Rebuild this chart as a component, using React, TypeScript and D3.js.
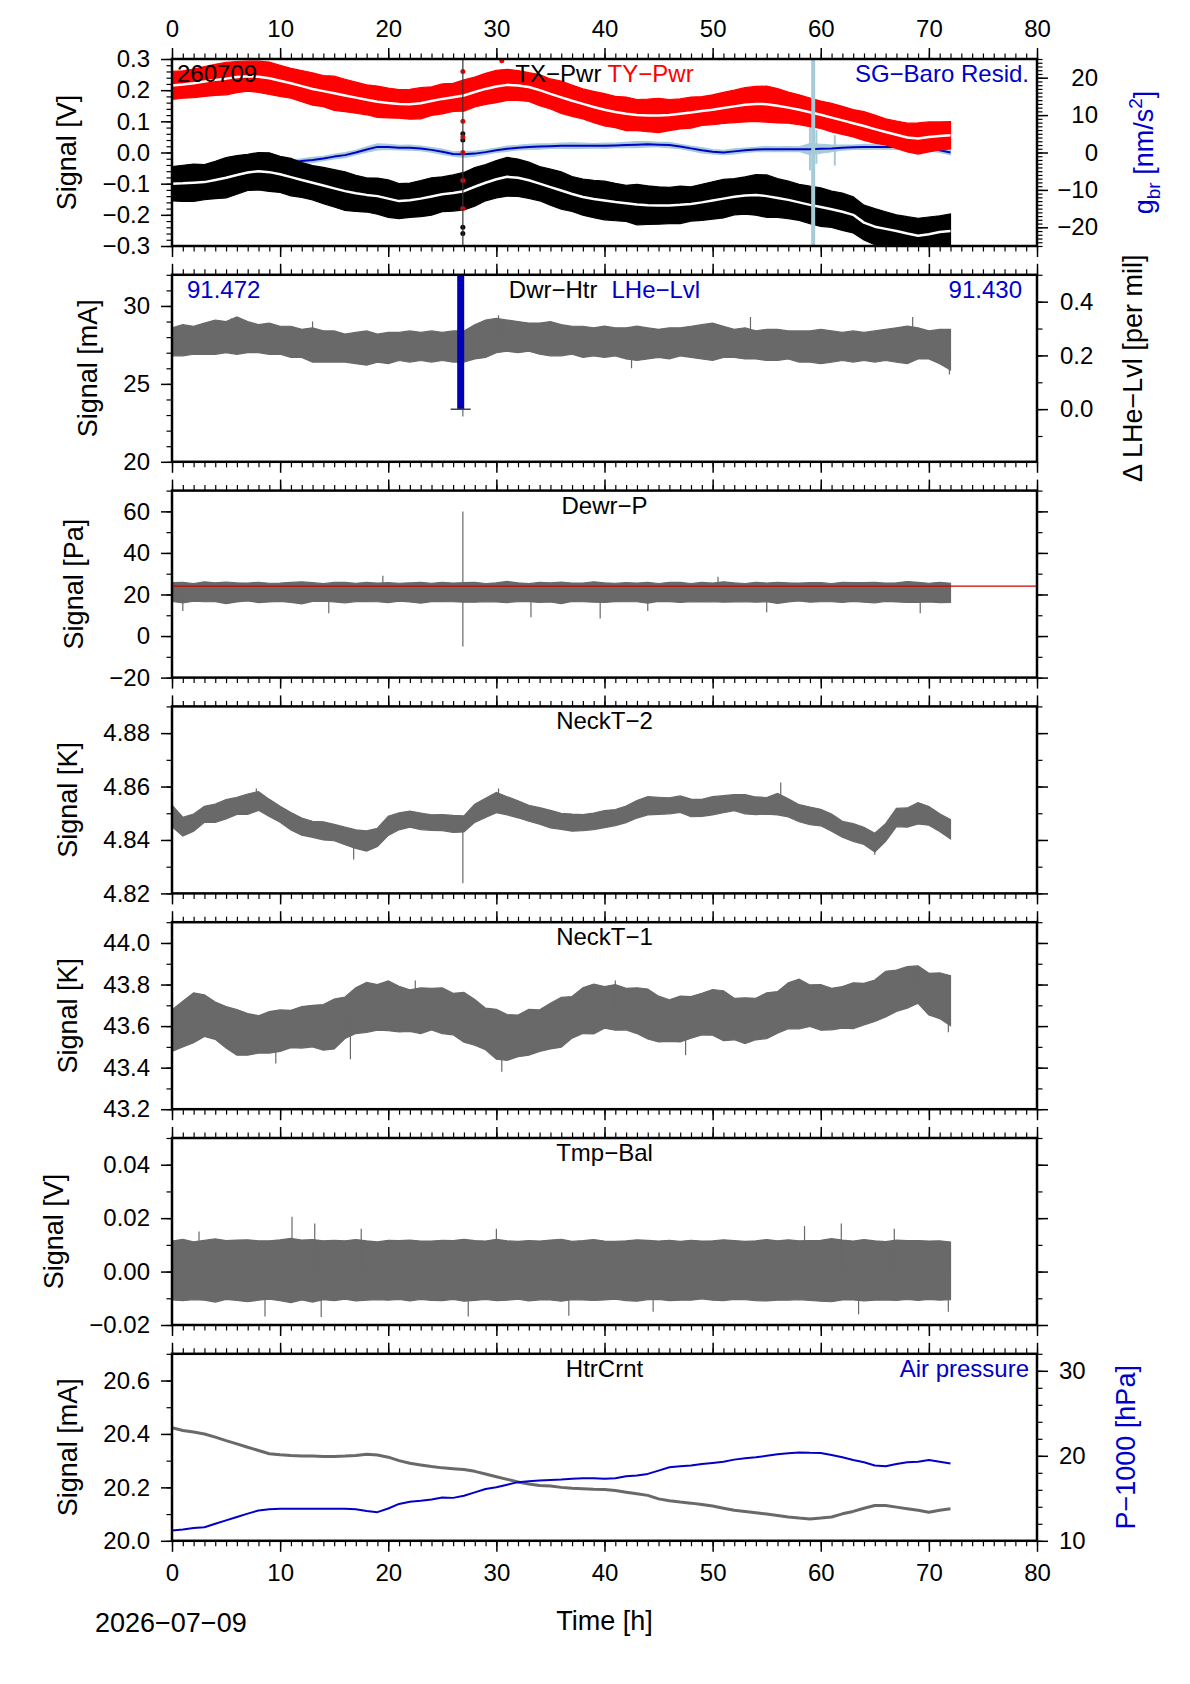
import * as d3 from 'd3';
import React, { useEffect, useRef } from 'react';

// hourly sample grid (h since 2026-07-09 00:00)
const hours = d3.range(0, 73);

// ---- panel 1: tilt power (V) and SG-Baro residual (nm/s^2)
const tyMid = [
  0.215, 0.218, 0.222, 0.228, 0.233, 0.237, 0.242, 0.245, 0.243, 0.238,
  0.230, 0.222, 0.213, 0.204, 0.197, 0.190, 0.183, 0.176, 0.169, 0.163,
  0.159, 0.156, 0.155, 0.158, 0.165, 0.172, 0.177, 0.183, 0.194, 0.204,
  0.212, 0.217, 0.215, 0.210, 0.200, 0.188, 0.177, 0.166, 0.156, 0.146,
  0.137, 0.130, 0.124, 0.120, 0.119, 0.119, 0.120, 0.124, 0.128, 0.133,
  0.137, 0.143, 0.148, 0.153, 0.156, 0.155, 0.150, 0.144, 0.137, 0.129,
  0.121, 0.112, 0.103, 0.094, 0.085, 0.075, 0.066, 0.057, 0.048, 0.045,
  0.050, 0.053, 0.055,
];
const tyAmp = [
  0.045, 0.044, 0.046, 0.048, 0.050, 0.052, 0.050, 0.048, 0.050, 0.052,
  0.050, 0.048, 0.050, 0.052, 0.050, 0.055, 0.052, 0.050, 0.048, 0.050,
  0.048, 0.046, 0.048, 0.050, 0.046, 0.048, 0.045, 0.050, 0.048, 0.050,
  0.052, 0.050, 0.048, 0.046, 0.050, 0.048, 0.052, 0.050, 0.048, 0.050,
  0.052, 0.050, 0.054, 0.050, 0.052, 0.055, 0.050, 0.048, 0.050, 0.046,
  0.048, 0.050, 0.052, 0.055, 0.056, 0.058, 0.055, 0.050, 0.048, 0.046,
  0.044, 0.046, 0.045, 0.044, 0.046, 0.045, 0.042, 0.044, 0.046, 0.050,
  0.048, 0.045, 0.044,
];
const txMid = [
  -0.100, -0.099, -0.097, -0.095, -0.088, -0.081, -0.072, -0.064, -0.060, -0.063,
  -0.070, -0.079, -0.088, -0.097, -0.106, -0.115, -0.124, -0.131, -0.136, -0.140,
  -0.148, -0.156, -0.153, -0.148, -0.141, -0.134, -0.130, -0.124, -0.110, -0.097,
  -0.086, -0.078, -0.081, -0.089, -0.100, -0.111, -0.122, -0.133, -0.143, -0.149,
  -0.154, -0.159, -0.163, -0.167, -0.169, -0.170, -0.170, -0.168, -0.165, -0.160,
  -0.154, -0.148, -0.142, -0.138, -0.136, -0.140, -0.146, -0.152, -0.160, -0.168,
  -0.175, -0.182, -0.190, -0.200, -0.225, -0.238, -0.245, -0.252, -0.260, -0.267,
  -0.262, -0.255, -0.252,
];
const txAmp = [
  0.055, 0.058, 0.060, 0.056, 0.060, 0.065, 0.062, 0.058, 0.060, 0.062,
  0.058, 0.060, 0.056, 0.055, 0.058, 0.060, 0.062, 0.058, 0.055, 0.058,
  0.060, 0.056, 0.055, 0.058, 0.060, 0.056, 0.058, 0.060, 0.062, 0.058,
  0.060, 0.062, 0.060, 0.058, 0.055, 0.058, 0.060, 0.056, 0.058, 0.060,
  0.062, 0.060, 0.058, 0.065, 0.062, 0.060, 0.058, 0.060, 0.055, 0.058,
  0.060, 0.062, 0.058, 0.060, 0.065, 0.068, 0.062, 0.060, 0.058, 0.060,
  0.062, 0.058, 0.060, 0.058, 0.056, 0.058, 0.055, 0.052, 0.054, 0.056,
  0.055, 0.052, 0.055,
];
const tyOutliers: [number, number][] = [
  [26.9, 0.26], [26.9, 0.22], [26.9, 0.18], [26.9, 0.14], [26.9, 0.1],
  [26.9, 0.05], [26.9, 0.0], [26.9, -0.09], [26.9, -0.18], [30.5, 0.294],
];
const txOutliers: [number, number][] = [
  [26.9, 0.06], [26.9, 0.04], [26.9, -0.08], [26.9, -0.24], [26.9, -0.26],
];
const sgMid = [
  -5.6, -5.8, -6.0, -6.0, -5.8, -5.5, -5.0, -4.5, -4.0, -3.5,
  -3.0, -2.6, -2.3, -2.0, -1.6, -1.1, -0.7, 0.0, 0.8, 1.5,
  1.5, 1.3, 1.3, 1.1, 0.7, 0.2, -0.4, -0.5, -0.3, 0.1,
  0.6, 1.0, 1.3, 1.5, 1.6, 1.7, 1.8, 1.8, 1.8, 1.8,
  1.8, 1.9, 2.0, 2.1, 2.2, 2.1, 2.0, 1.6, 1.1, 0.6,
  0.2, 0.0, 0.3, 0.6, 0.8, 0.9, 0.9, 0.9, 0.9, 0.9,
  1.0, 1.1, 1.3, 1.4, 1.5, 1.5, 1.5, 1.5, 1.5, 1.4,
  1.1, 0.6, 0.0,
];
const sgAmp = [
  0.6, 0.7, 0.6, 0.6, 0.7, 0.6, 0.6, 0.7, 0.6, 0.6,
  0.7, 0.6, 0.6, 0.7, 0.6, 0.6, 0.7, 0.6, 0.7, 0.8,
  0.7, 0.6, 0.7, 0.6, 0.6, 0.7, 0.6, 0.8, 0.7, 0.6,
  0.6, 0.7, 0.6, 0.7, 0.7, 0.6, 0.7, 0.8, 0.7, 0.6,
  0.7, 0.6, 0.7, 0.8, 0.7, 0.6, 0.7, 0.6, 0.6, 0.7,
  0.6, 0.6, 0.7, 0.6, 0.6, 0.7, 0.6, 0.7, 0.6, 1.5,
  1.2, 0.9, 0.7, 0.6, 0.7, 0.6, 0.6, 0.7, 0.6, 0.6,
  0.7, 0.6, 0.6,
];
// [t, from, to] raw residual bursts
const sgSpikes: [number, number, number][] = [
  [59.0, -4.8, 9.0], [59.6, -3.0, 6.0], [61.3, -3.5, 4.6],
];
const sgGapT = 59.3;
const stepT = 26.9;

// ---- panel 2: dewar heater current (mA) and LHe level step (per mil)
const dwrMid = [
  27.7, 27.8, 27.8, 27.9, 28.0, 28.0, 28.1, 28.0, 27.9, 27.9,
  27.8, 27.7, 27.6, 27.5, 27.4, 27.4, 27.3, 27.3, 27.3, 27.3,
  27.3, 27.4, 27.4, 27.4, 27.4, 27.4, 27.4, 27.4, 27.7, 27.9,
  28.1, 28.1, 28.0, 28.0, 27.9, 27.9, 27.8, 27.8, 27.7, 27.7,
  27.7, 27.7, 27.6, 27.6, 27.6, 27.6, 27.6, 27.7, 27.7, 27.7,
  27.7, 27.7, 27.6, 27.6, 27.5, 27.5, 27.5, 27.5, 27.4, 27.4,
  27.4, 27.4, 27.4, 27.4, 27.4, 27.4, 27.5, 27.5, 27.5, 27.6,
  27.5, 27.4, 27.2,
];
const dwrAmp = [
  0.9, 1.0, 0.9, 1.0, 1.1, 1.0, 1.2, 1.0, 0.9, 1.0,
  0.9, 1.0, 0.9, 1.1, 1.0, 1.0, 0.9, 1.0, 1.1, 0.9,
  1.0, 0.9, 1.0, 0.9, 1.0, 0.9, 1.0, 1.0, 1.1, 1.2,
  1.1, 1.0, 1.0, 0.9, 1.0, 1.1, 1.0, 0.9, 1.0, 0.9,
  1.0, 0.9, 1.0, 1.1, 1.0, 0.9, 1.0, 0.9, 1.0, 1.1,
  1.2, 1.0, 0.9, 1.0, 0.9, 1.0, 1.0, 0.9, 1.0, 1.0,
  1.1, 1.0, 0.9, 1.0, 0.9, 1.0, 1.0, 1.1, 1.2, 1.0,
  0.9, 1.1, 1.3,
];
const dwrSpikes: [number, number, number][] = [
  [26.9, 27.4, 22.9], [71.9, 27.2, 25.6], [5.5, 28.0, 29.2], [13.0, 27.5, 29.0],
  [30.2, 28.1, 29.4], [42.5, 27.6, 26.0], [53.5, 27.6, 29.3], [68.5, 27.5, 29.3],
];
const lheStep = { t: 26.7, from: 0.0, to: 0.5 };
const lheStart = '91.472';
const lheEnd = '91.430';

// ---- panel 3: dewar pressure (Pa)
const dewrMid = [
  21.2, 20.9, 21.0, 21.3, 21.1, 20.8, 21.0, 21.2, 21.0, 20.9,
  21.1, 21.0, 20.8, 21.2, 21.0, 21.1, 20.9, 21.0, 21.2, 21.0,
  20.9, 21.1, 21.0, 20.8, 21.0, 21.2, 21.0, 21.0, 21.1, 20.9,
  21.0, 21.2, 21.1, 20.9, 21.0, 21.0, 20.8, 21.1, 21.0, 21.2,
  20.9, 21.0, 21.1, 21.0, 20.8, 21.0, 21.2, 21.0, 20.9, 21.1,
  21.0, 21.2, 21.0, 20.9, 21.1, 21.0, 20.8, 21.0, 21.2, 21.0,
  21.1, 20.9, 21.0, 21.2, 21.0, 20.9, 21.1, 21.0, 21.2, 21.0,
  20.9, 21.0, 20.8,
];
const dewrAmp = [
  4.5, 5.0, 4.2, 4.8, 4.5, 5.2, 4.6, 4.3, 4.9, 4.5,
  4.4, 4.8, 5.3, 4.5, 4.2, 4.7, 4.9, 4.4, 4.6, 4.5,
  4.8, 4.3, 4.6, 5.0, 4.4, 4.6, 4.5, 4.7, 4.8, 4.4,
  4.6, 5.1, 4.5, 4.3, 4.8, 4.6, 5.2, 4.4, 4.5, 4.9,
  4.7, 4.4, 4.6, 4.5, 5.0, 4.3, 4.6, 4.8, 4.4, 4.7,
  4.5, 4.9, 4.6, 4.4, 4.8, 4.5, 5.1, 4.6, 4.3, 4.7,
  4.6, 4.4, 4.8, 4.5, 4.7, 4.9, 4.4, 4.6, 5.0, 4.8,
  4.5, 4.9, 4.6,
];
const dewrSpikes: [number, number, number][] = [
  [26.9, -5, 60], [1.0, 21, 12], [14.5, 21, 11], [33.2, 21, 9], [39.6, 21, 8.5],
  [44.0, 21, 12], [55.0, 21, 11.5], [69.2, 21, 11], [19.5, 21, 29], [50.5, 21, 28.5],
];
const dewrRef = 24;

// ---- panel 4: neck temperature 2 (K)
const neckT2Mid = [
  4.8490, 4.8450, 4.8465, 4.8496, 4.8500, 4.8515, 4.8528, 4.8534, 4.8546, 4.8520,
  4.8496, 4.8470, 4.8450, 4.8440, 4.8434, 4.8428, 4.8415, 4.8403, 4.8396, 4.8410,
  4.8453, 4.8470, 4.8478, 4.8470, 4.8465, 4.8465, 4.8460, 4.8460, 4.8500, 4.8520,
  4.8540, 4.8528, 4.8515, 4.8500, 4.8490, 4.8478, 4.8470, 4.8465, 4.8465, 4.8470,
  4.8478, 4.8484, 4.8496, 4.8515, 4.8528, 4.8528, 4.8528, 4.8534, 4.8520, 4.8520,
  4.8528, 4.8534, 4.8540, 4.8534, 4.8528, 4.8528, 4.8534, 4.8520, 4.8500, 4.8490,
  4.8484, 4.8465, 4.8440, 4.8428, 4.8415, 4.8390, 4.8428, 4.8484, 4.8484, 4.8500,
  4.8490, 4.8465, 4.8440,
];
const neckT2Amp = [
  0.0040, 0.0035, 0.0032, 0.0030, 0.0034, 0.0036, 0.0032, 0.0038, 0.0035, 0.0032,
  0.0030, 0.0033, 0.0032, 0.0030, 0.0034, 0.0031, 0.0033, 0.0035, 0.0038, 0.0034,
  0.0036, 0.0032, 0.0030, 0.0031, 0.0029, 0.0030, 0.0032, 0.0030, 0.0034, 0.0036,
  0.0038, 0.0034, 0.0032, 0.0030, 0.0031, 0.0033, 0.0030, 0.0032, 0.0030, 0.0031,
  0.0032, 0.0030, 0.0031, 0.0033, 0.0034, 0.0032, 0.0030, 0.0031, 0.0033, 0.0032,
  0.0034, 0.0032, 0.0030, 0.0036, 0.0033, 0.0031, 0.0040, 0.0034, 0.0032, 0.0033,
  0.0031, 0.0032, 0.0030, 0.0033, 0.0032, 0.0035, 0.0033, 0.0034, 0.0036, 0.0040,
  0.0035, 0.0033, 0.0036,
];
const neckT2Spikes: [number, number, number][] = [
  [26.9, 4.846, 4.8238], [16.8, 4.8403, 4.8327], [56.3, 4.8534, 4.8615], [7.8, 4.8534, 4.8593],
  [30.2, 4.854, 4.8593], [65.0, 4.839, 4.8345],
];

// ---- panel 5: neck temperature 1 (K)
const neckT1Mid = [
  43.578, 43.610, 43.640, 43.650, 43.626, 43.594, 43.570, 43.560, 43.560, 43.570,
  43.578, 43.586, 43.594, 43.600, 43.594, 43.610, 43.640, 43.674, 43.690, 43.690,
  43.698, 43.682, 43.674, 43.674, 43.682, 43.674, 43.658, 43.642, 43.618, 43.586,
  43.561, 43.545, 43.553, 43.570, 43.578, 43.600, 43.618, 43.642, 43.674, 43.682,
  43.690, 43.690, 43.682, 43.674, 43.658, 43.634, 43.626, 43.634, 43.642, 43.658,
  43.666, 43.650, 43.634, 43.626, 43.634, 43.650, 43.666, 43.698, 43.706, 43.698,
  43.690, 43.682, 43.690, 43.698, 43.706, 43.722, 43.754, 43.770, 43.786, 43.800,
  43.754, 43.746, 43.722,
];
const neckT1Amp = [
  0.10, 0.11, 0.12, 0.10, 0.09, 0.10, 0.11, 0.10, 0.09, 0.10,
  0.10, 0.09, 0.10, 0.10, 0.11, 0.12, 0.10, 0.11, 0.12, 0.11,
  0.12, 0.11, 0.10, 0.11, 0.10, 0.11, 0.10, 0.12, 0.11, 0.10,
  0.12, 0.11, 0.10, 0.11, 0.10, 0.11, 0.12, 0.10, 0.11, 0.12,
  0.10, 0.11, 0.10, 0.11, 0.12, 0.11, 0.10, 0.11, 0.10, 0.10,
  0.11, 0.12, 0.10, 0.11, 0.10, 0.11, 0.10, 0.11, 0.12, 0.10,
  0.11, 0.10, 0.10, 0.11, 0.10, 0.10, 0.11, 0.10, 0.10, 0.09,
  0.10, 0.11, 0.12,
];
const neckT1Spikes: [number, number, number][] = [
  [30.5, 43.56, 43.38], [9.6, 43.58, 43.42], [68.6, 43.79, 43.89], [71.8, 43.72, 43.57],
  [16.5, 43.64, 43.44], [22.5, 43.67, 43.82], [41.0, 43.69, 43.82], [47.5, 43.63, 43.46],
];

// ---- panel 6: balance temperature (V)
const tmpBalMid = [
  0.0004, 0.0006, 0.0003, 0.0005, 0.0004, 0.0006, 0.0005, 0.0003, 0.0004, 0.0006,
  0.0005, 0.0004, 0.0006, 0.0003, 0.0005, 0.0004, 0.0006, 0.0005, 0.0004, 0.0003,
  0.0005, 0.0006, 0.0004, 0.0005, 0.0003, 0.0004, 0.0006, 0.0005, 0.0004, 0.0005,
  0.0006, 0.0004, 0.0005, 0.0003, 0.0004, 0.0006, 0.0005, 0.0004, 0.0005, 0.0006,
  0.0004, 0.0005, 0.0003, 0.0004, 0.0006, 0.0005, 0.0004, 0.0003, 0.0005, 0.0006,
  0.0004, 0.0005, 0.0006, 0.0004, 0.0003, 0.0005, 0.0004, 0.0006, 0.0005, 0.0004,
  0.0003, 0.0005, 0.0006, 0.0004, 0.0005, 0.0004, 0.0003, 0.0005, 0.0006, 0.0004,
  0.0005, 0.0004, 0.0003,
];
const tmpBalAmp = [
  0.0110, 0.0115, 0.0108, 0.0112, 0.0118, 0.0110, 0.0113, 0.0116, 0.0111, 0.0109,
  0.0114, 0.0120, 0.0112, 0.0117, 0.0110, 0.0113, 0.0109, 0.0115, 0.0111, 0.0108,
  0.0112, 0.0110, 0.0114, 0.0109, 0.0111, 0.0113, 0.0110, 0.0116, 0.0112, 0.0109,
  0.0115, 0.0111, 0.0108, 0.0113, 0.0110, 0.0112, 0.0116, 0.0109, 0.0111, 0.0114,
  0.0110, 0.0108, 0.0112, 0.0115, 0.0111, 0.0109, 0.0113, 0.0110, 0.0112, 0.0108,
  0.0111, 0.0114, 0.0110, 0.0109, 0.0112, 0.0115, 0.0111, 0.0113, 0.0110, 0.0112,
  0.0114, 0.0118, 0.0112, 0.0110, 0.0115, 0.0111, 0.0109, 0.0113, 0.0110, 0.0112,
  0.0109, 0.0111, 0.0108,
];
const tmpBalSpikes: [number, number, number][] = [
  [2.5, 0, 0.015], [11.1, 0, 0.0205], [13.2, 0, 0.018], [17.5, 0, 0.016], [30.0, 0, 0.016],
  [58.5, 0, 0.017], [61.9, 0, 0.018], [66.8, 0, 0.016], [8.6, 0, -0.0168], [13.8, 0, -0.017],
  [27.4, 0, -0.0168], [36.7, 0, -0.0165], [44.5, 0, -0.015], [63.5, 0, -0.016], [71.8, 0, -0.015],
];

// ---- panel 7: heater current (mA) and air pressure (hPa - 1000)
const htrCrnt = [
  20.423, 20.413, 20.407, 20.400, 20.388, 20.375, 20.363, 20.350, 20.338, 20.326,
  20.322, 20.319, 20.317, 20.317, 20.316, 20.316, 20.317, 20.319, 20.324, 20.321,
  20.313, 20.300, 20.290, 20.284, 20.278, 20.273, 20.270, 20.267, 20.260, 20.250,
  20.240, 20.230, 20.220, 20.213, 20.207, 20.205, 20.200, 20.197, 20.195, 20.193,
  20.192, 20.188, 20.182, 20.176, 20.170, 20.157, 20.150, 20.145, 20.141, 20.136,
  20.130, 20.122, 20.114, 20.110, 20.105, 20.100, 20.095, 20.089, 20.085, 20.082,
  20.085, 20.089, 20.101, 20.110, 20.122, 20.132, 20.132, 20.126, 20.120, 20.114,
  20.107, 20.114, 20.120,
];
const airPressure = [
  11.2, 11.33, 11.5, 11.6, 12.0, 12.4, 12.8, 13.2, 13.56, 13.7,
  13.76, 13.76, 13.76, 13.76, 13.76, 13.76, 13.76, 13.7, 13.5, 13.37,
  13.8, 14.34, 14.6, 14.7, 14.85, 15.1, 15.05, 15.3, 15.7, 16.1,
  16.3, 16.6, 16.9, 17.0, 17.1, 17.15, 17.2, 17.3, 17.35, 17.35,
  17.3, 17.35, 17.6, 17.67, 17.87, 18.26, 18.65, 18.77, 18.85, 19.04,
  19.16, 19.3, 19.55, 19.7, 19.82, 20.0, 20.18, 20.3, 20.4, 20.35,
  20.33, 20.1, 19.82, 19.5, 19.24, 18.85, 18.77, 19.04, 19.24, 19.3,
  19.5, 19.3, 19.1,
];

// ---- axes
const timeTicks = [0, 10, 20, 30, 40, 50, 60, 70, 80];
const panelCfg = [
  { ylabel: 'Signal [V]', domain: [-0.3, 0.3], major: 0.1, minor: 0.02, fmt: '.1f', title: '' },
  { ylabel: 'Signal [mA]', domain: [20, 32], major: 5, minor: 1, fmt: 'd', title: '' },
  { ylabel: 'Signal [Pa]', domain: [-20, 70], major: 20, minor: 10, fmt: 'd', title: 'Dewr\u2212P' },
  { ylabel: 'Signal [K]', domain: [4.82, 4.89], major: 0.02, minor: 0.01, fmt: '.2f', title: 'NeckT\u22122' },
  { ylabel: 'Signal [K]', domain: [43.2, 44.1], major: 0.2, minor: 0.1, fmt: '.1f', title: 'NeckT\u22121' },
  { ylabel: 'Signal [V]', domain: [-0.02, 0.05], major: 0.02, minor: 0.01, fmt: '.2f', title: 'Tmp\u2212Bal' },
  { ylabel: 'Signal [mA]', domain: [20.0, 20.7], major: 0.2, minor: 0.1, fmt: '.1f', title: 'HtrCrnt' },
];
const rightCfg: Record<number, any> = {
  0: { domain: [-25, 25], major: 10, minor: 1, fmt: 'd', anchor: 'end', lx: 61, tx: 1144, color: '#0000c8' },
  1: { domain: [-0.196, 0.5], major: 0.2, minor: 0.1, fmt: '.1f', anchor: 'start', lx: 23, tx: 1133, color: '#000' },
  6: { domain: [10, 32], major: 10, minor: 2, fmt: 'd', anchor: 'start', lx: 22, tx: 1126, color: '#0000c8' },
};

const W = 1190;
const H = 1684;
const LEFT = 172;
const RIGHT = 1037;
const TOP0 = 59;
const STEP = 215.8;
const PH = 187;
const FONT = "'Liberation Sans', Arial, Helvetica, sans-serif";
const GRAY = '#696969';
const BLUE = '#0000c8';
const LIGHTBLUE = '#a6cbd8';

const ticksBy = (lo: number, hi: number, step: number) => {
  const a = Math.ceil(lo / step - 1e-6);
  const b = Math.floor(hi / step + 1e-6);
  return d3.range(a, b + 1).map((k) => +(k * step).toFixed(6));
};
const charW = (s: string) =>
  Array.from(s).reduce((w, c) => w + (c === '.' ? 0.278 : c === '\u2212' ? 0.584 : 0.556), 0);

export default function App() {
  const ref = useRef<SVGSVGElement>(null);

  useEffect(() => {
    const svg = d3.select(ref.current as SVGSVGElement);
    svg.selectAll('*').remove();
    svg.append('rect').attr('width', W).attr('height', H).attr('fill', '#fff');
    const defs = svg.append('defs');
    const root = svg.append('g').attr('font-family', FONT);

    const x = d3.scaleLinear().domain([0, 80]).range([LEFT, RIGHT]);

    const styleAxis = (g: any, sw: number) => {
      g.select('.domain').remove();
      g.attr('font-family', FONT).attr('font-size', 24);
      g.selectAll('line').attr('stroke', '#000').attr('stroke-width', sw);
      g.selectAll('text').attr('fill', '#000');
    };

    const band = (g: any, y: any, mid: number[], amp: number[], color: string) => {
      const rows = hours.map((t, k) => ({ t, lo: mid[k] - amp[k], hi: mid[k] + amp[k] }));
      const area = d3.area<any>().x((d) => x(d.t)).y0((d) => y(d.lo)).y1((d) => y(d.hi));
      g.append('path').datum(rows).attr('d', area).attr('fill', color)
        .attr('stroke', color).attr('stroke-width', 1.2).attr('stroke-linejoin', 'miter');
    };
    const line = (g: any, y: any, vals: number[], color: string, width: number) => {
      const ln = d3.line<number>().x((_, k) => x(hours[k])).y((d) => y(d));
      g.append('path').datum(vals).attr('d', ln).attr('fill', 'none')
        .attr('stroke', color).attr('stroke-width', width).attr('stroke-linejoin', 'round');
    };
    const spikes = (g: any, y: any, list: [number, number, number][], color: string, width: number) => {
      g.selectAll(null).data(list).join('line')
        .attr('x1', (d: any) => x(d[0])).attr('x2', (d: any) => x(d[0]))
        .attr('y1', (d: any) => y(d[1])).attr('y2', (d: any) => y(d[2]))
        .attr('stroke', color).attr('stroke-width', width);
    };
    const label = (top: number, text: string, xx: number, anchor: string, color = '#000') =>
      root.append('text').attr('x', xx).attr('y', top + 23).attr('text-anchor', anchor)
        .attr('font-size', 24).attr('fill', color).text(text);

    panelCfg.forEach((cfg, i) => {
      const top = TOP0 + i * STEP;
      const bottom = top + PH;
      const y = d3.scaleLinear().domain(cfg.domain).range([bottom, top]);
      const fmt = d3.format(cfg.fmt);

      defs.append('clipPath').attr('id', `clip${i}`).append('rect')
        .attr('x', LEFT).attr('y', top).attr('width', RIGHT - LEFT).attr('height', PH);
      const data = root.append('g').attr('clip-path', `url(#clip${i})`);

      if (i === 0) {
        const yR = d3.scaleLinear().domain(rightCfg[0].domain).range([bottom, top]);
        band(data, yR, sgMid, sgAmp, LIGHTBLUE);
        spikes(data, yR, sgSpikes, LIGHTBLUE, 2);
        line(data, yR, sgMid, BLUE, 2);
        band(data, y, txMid, txAmp, '#000');
        data.selectAll(null).data(txOutliers).join('circle')
          .attr('cx', (d) => x(d[0])).attr('cy', (d) => y(d[1])).attr('r', 2.5).attr('fill', '#000');
        line(data, y, txMid, '#fff', 2.5);
        band(data, y, tyMid, tyAmp, '#ff0000');
        data.selectAll(null).data(tyOutliers).join('circle')
          .attr('cx', (d) => x(d[0])).attr('cy', (d) => y(d[1])).attr('r', 2.5).attr('fill', '#ff0000');
        line(data, y, tyMid, '#fff', 2.5);
        data.append('line').attr('x1', x(stepT)).attr('x2', x(stepT))
          .attr('y1', top).attr('y2', bottom).attr('stroke', '#333').attr('stroke-width', 1.2);
        data.append('rect').attr('x', x(sgGapT) - 2).attr('y', top).attr('width', 4)
          .attr('height', PH).attr('fill', LIGHTBLUE);
        root.append('text').attr('x', 177).attr('y', top + 23).attr('font-size', 24).text('260709');
        const t = root.append('text').attr('x', (LEFT + RIGHT) / 2).attr('y', top + 23)
          .attr('text-anchor', 'middle').attr('font-size', 24);
        t.append('tspan').attr('fill', '#000').text('TX\u2212Pwr ');
        t.append('tspan').attr('fill', '#ff0000').text('TY\u2212Pwr');
        label(top, 'SG\u2212Baro Resid.', 1029, 'end', BLUE);
      } else if (i === 1) {
        const yR = d3.scaleLinear().domain(rightCfg[1].domain).range([bottom, top]);
        band(data, y, dwrMid, dwrAmp, GRAY);
        spikes(data, y, dwrSpikes, GRAY, 1.2);
        data.append('rect').attr('x', x(lheStep.t) - 3.5).attr('y', yR(lheStep.to))
          .attr('width', 7).attr('height', yR(lheStep.from) - yR(lheStep.to)).attr('fill', '#0000b4');
        data.append('line').attr('x1', x(lheStep.t) - 10).attr('x2', x(lheStep.t) + 10)
          .attr('y1', yR(lheStep.from)).attr('y2', yR(lheStep.from)).attr('stroke', '#444').attr('stroke-width', 1.5);
        label(top, lheStart, 187, 'start', BLUE);
        label(top, lheEnd, 1022, 'end', BLUE);
        const t = root.append('text').attr('x', (LEFT + RIGHT) / 2).attr('y', top + 23)
          .attr('text-anchor', 'middle').attr('font-size', 24);
        t.append('tspan').attr('fill', '#000').text('Dwr\u2212Htr');
        t.append('tspan').attr('fill', BLUE).attr('dx', 14).text('LHe\u2212Lvl');
      } else if (i === 2) {
        band(data, y, dewrMid, dewrAmp, GRAY);
        spikes(data, y, dewrSpikes, GRAY, 1.2);
        data.append('line').attr('x1', LEFT).attr('x2', RIGHT).attr('y1', y(dewrRef)).attr('y2', y(dewrRef))
          .attr('stroke', '#d00000').attr('stroke-width', 1.3);
      } else if (i === 3) {
        band(data, y, neckT2Mid, neckT2Amp, GRAY);
        spikes(data, y, neckT2Spikes, GRAY, 1.2);
      } else if (i === 4) {
        band(data, y, neckT1Mid, neckT1Amp, GRAY);
        spikes(data, y, neckT1Spikes, GRAY, 1.2);
      } else if (i === 5) {
        band(data, y, tmpBalMid, tmpBalAmp, GRAY);
        spikes(data, y, tmpBalSpikes, GRAY, 1.2);
      } else if (i === 6) {
        const yR = d3.scaleLinear().domain(rightCfg[6].domain).range([bottom, top]);
        line(data, y, htrCrnt, GRAY, 3);
        line(data, yR, airPressure, BLUE, 2);
        label(top, 'Air pressure', 1029, 'end', BLUE);
      }
      if (cfg.title) label(top, cfg.title, (LEFT + RIGHT) / 2, 'middle');

      // frame
      root.append('rect').attr('x', LEFT).attr('y', top).attr('width', RIGHT - LEFT).attr('height', PH)
        .attr('fill', 'none').attr('stroke', '#000').attr('stroke-width', 2.5);

      // left axis
      const gl = root.append('g').attr('transform', `translate(${LEFT},0)`);
      gl.append('g').call(d3.axisLeft(y).tickValues(ticksBy(cfg.domain[0], cfg.domain[1], cfg.minor))
        .tickSize(5.5).tickFormat(() => '')).call(styleAxis, 1.2);
      const majors = ticksBy(cfg.domain[0], cfg.domain[1], cfg.major);
      gl.append('g').call(d3.axisLeft(y).tickValues(majors).tickSize(11).tickPadding(11)
        .tickFormat((d: any) => fmt(d))).call(styleAxis, 1.5);
      const lw = d3.max(majors, (d) => charW(fmt(d))) as number;
      root.append('text')
        .attr('transform', `translate(${LEFT - 22 - lw * 24 - 36},${top + PH / 2}) rotate(-90)`)
        .attr('text-anchor', 'middle').attr('dy', '0.35em').attr('font-size', 27).text(cfg.ylabel);

      // right axis
      const gr = root.append('g').attr('transform', `translate(${RIGHT},0)`);
      const rc = rightCfg[i];
      if (rc) {
        const yR = d3.scaleLinear().domain(rc.domain).range([bottom, top]);
        const rf = d3.format(rc.fmt);
        gr.append('g').call(d3.axisRight(yR).tickValues(ticksBy(rc.domain[0], rc.domain[1], rc.minor))
          .tickSize(5.5).tickFormat(() => '')).call(styleAxis, 1.2);
        const ga = gr.append('g').call(d3.axisRight(yR).tickValues(ticksBy(rc.domain[0], rc.domain[1], rc.major))
          .tickSize(11).tickFormat((d: any) => rf(d)));
        styleAxis(ga, 1.5);
        ga.selectAll('text').attr('text-anchor', rc.anchor).attr('x', rc.lx);
        const tt = root.append('text')
          .attr('transform', `translate(${rc.tx},${top + PH / 2}) rotate(-90)`)
          .attr('text-anchor', 'middle').attr('dy', '0.35em').attr('font-size', 27).attr('fill', rc.color);
        if (i === 0) {
          tt.append('tspan').text('g');
          tt.append('tspan').attr('font-size', 19).attr('dy', 7).text('br');
          tt.append('tspan').attr('dy', -7).text(' [nm/s');
          tt.append('tspan').attr('font-size', 19).attr('dy', -11).text('2');
          tt.append('tspan').attr('dy', 11).text(']');
        } else if (i === 1) {
          tt.text('\u0394 LHe\u2212Lvl [per mil]');
        } else {
          tt.text('P\u22121000 [hPa]');
        }
      } else {
        gr.append('g').call(d3.axisRight(y).tickValues(ticksBy(cfg.domain[0], cfg.domain[1], cfg.minor))
          .tickSize(5.5).tickFormat(() => '')).call(styleAxis, 1.2);
        gr.append('g').call(d3.axisRight(y).tickValues(majors).tickSize(11).tickFormat(() => ''))
          .call(styleAxis, 1.5);
      }

      // time axes, top and bottom of every panel
      const gt = root.append('g').attr('transform', `translate(0,${top})`);
      gt.append('g').call(d3.axisTop(x).tickValues(d3.range(0, 81)).tickSize(5.5).tickFormat(() => ''))
        .call(styleAxis, 1.2);
      gt.append('g').call(d3.axisTop(x).tickValues(timeTicks).tickSize(11).tickPadding(11)
        .tickFormat((d: any) => (i === 0 ? String(d) : ''))).call(styleAxis, 1.5);
      const gb = root.append('g').attr('transform', `translate(0,${bottom})`);
      gb.append('g').call(d3.axisBottom(x).tickValues(d3.range(0, 81)).tickSize(5.5).tickFormat(() => ''))
        .call(styleAxis, 1.2);
      gb.append('g').call(d3.axisBottom(x).tickValues(timeTicks).tickSize(11).tickPadding(12)
        .tickFormat((d: any) => (i === panelCfg.length - 1 ? String(d) : ''))).call(styleAxis, 1.5);
    });

    root.append('text').attr('x', (LEFT + RIGHT) / 2).attr('y', 1630).attr('text-anchor', 'middle')
      .attr('font-size', 27).text('Time [h]');
    root.append('text').attr('x', 95).attr('y', 1632).attr('font-size', 27).text('2026\u221207\u221209');
  }, []);

  return (
    <svg ref={ref} width={W} height={H}
      style={{ position: 'absolute', left: 0, top: 0, display: 'block' }} />
  );
}
